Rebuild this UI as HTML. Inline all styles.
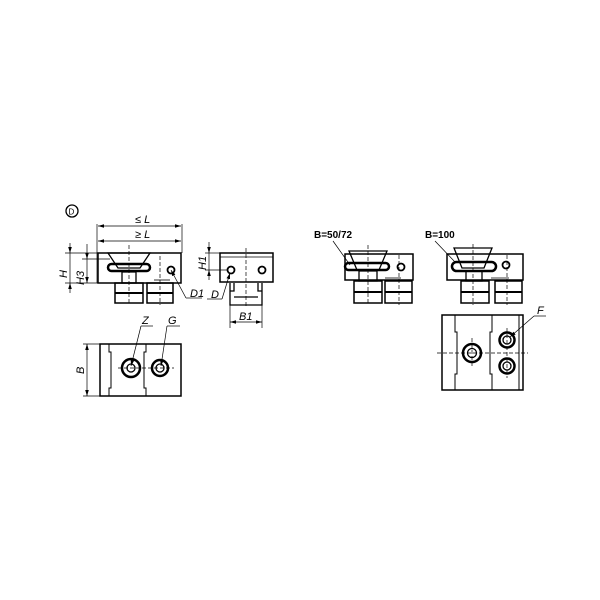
<!DOCTYPE html>
<html><head><style>
body{margin:0;background:#fff}
svg{display:block}
text{font-family:"Liberation Sans",sans-serif;font-style:italic;font-size:11px;fill:#000}
.b{font-style:normal;font-weight:bold;font-size:10px}
</style></head><body>
<svg width="600" height="600" viewBox="0 0 600 600" fill="none" stroke="#000" stroke-width="1.3">
<defs>
<marker id="a" viewBox="0 0 10 6" refX="10" refY="3" markerWidth="6" markerHeight="4" orient="auto-start-reverse" markerUnits="userSpaceOnUse"><path d="M0 0 L10 3 L0 6 Z" fill="#000" stroke="none"/></marker>
</defs>
<!-- D circle -->
<circle cx="72" cy="211" r="6"/>
<text x="68.5" y="214.5" stroke="none" style="font-style:normal;font-size:8px">D</text>
<!-- dims L -->
<line x1="97" y1="224" x2="97" y2="283" stroke-width="0.7"/>
<line x1="182" y1="224" x2="182" y2="253" stroke-width="0.7"/>
<line x1="98" y1="226" x2="181" y2="226" stroke-width="0.7" marker-start="url(#a)" marker-end="url(#a)"/>
<line x1="98" y1="241" x2="181" y2="241" stroke-width="0.7" marker-start="url(#a)" marker-end="url(#a)"/>
<text x="135" y="223" stroke="none">≤ L</text>
<text x="135" y="238" stroke="none">≥ L</text>
<!-- H dims -->
<line x1="65" y1="253" x2="98" y2="253" stroke-width="0.7"/>
<line x1="65" y1="283" x2="98" y2="283" stroke-width="0.7"/>
<line x1="82" y1="259" x2="110" y2="259" stroke-width="0.7"/>
<line x1="70" y1="243" x2="70" y2="253" stroke-width="0.7" marker-end="url(#a)"/>
<line x1="70" y1="293" x2="70" y2="283" stroke-width="0.7" marker-end="url(#a)"/>
<line x1="70" y1="253" x2="70" y2="283" stroke-width="0.7"/>
<line x1="87" y1="244" x2="87" y2="259" stroke-width="0.7" marker-end="url(#a)"/>
<line x1="87" y1="259" x2="87" y2="283" stroke-width="0.7" marker-end="url(#a)"/>
<text x="0" y="0" stroke="none" transform="translate(67,278) rotate(-90)">H</text>
<text x="0" y="0" stroke="none" transform="translate(84,285) rotate(-90)">H3</text>
<!-- front view 1 -->
<rect x="98" y="253" width="83" height="30" stroke-width="1.5"/>
<path d="M108 253 L150 253 L140 268 L118 268 Z"/>
<rect x="108" y="264" width="42" height="7" rx="3.5" stroke-width="2.5"/>
<path d="M122 272 h14 v11 h-14 z"/>
<rect x="115" y="283" width="28" height="20" stroke-width="1.5"/>
<line x1="115" y1="293" x2="143" y2="293" stroke-width="2"/>
<rect x="147" y="283" width="26" height="20" stroke-width="1.5"/>
<line x1="147" y1="293" x2="173" y2="293" stroke-width="2"/>
<line x1="129" y1="245" x2="129" y2="305" stroke-dasharray="4,2" stroke-width="0.7"/>
<line x1="160" y1="256" x2="160" y2="305" stroke-dasharray="4,2" stroke-width="0.7"/>
<path d="M154 280 h16" stroke-width="0.8"/>
<circle cx="171" cy="270" r="3.5" stroke-width="1.8"/>
<line x1="186" y1="298" x2="171" y2="270" stroke-width="0.7" marker-end="url(#a)"/>
<line x1="186" y1="298" x2="202" y2="298" stroke-width="0.7"/>
<text x="190" y="297" stroke="none">D1</text>
<!-- side view -->
<rect x="220" y="253" width="53" height="29" stroke-width="1.5"/>
<line x1="220" y1="257" x2="273" y2="257" stroke-width="0.8"/>
<path d="M230 283 v22 h32 v-22 M234 283 v8 h-4 M258 283 v8 h4 M234 297 h24" stroke-width="1.3"/>
<circle cx="231" cy="270" r="3.5" stroke-width="1.8"/>
<circle cx="262" cy="270" r="3.5" stroke-width="1.8"/>
<line x1="246" y1="248" x2="246" y2="308" stroke-dasharray="4,2" stroke-width="0.7"/>
<line x1="205" y1="253" x2="220" y2="253" stroke-width="0.7"/>
<line x1="205" y1="270" x2="228" y2="270" stroke-width="0.7"/>
<line x1="209" y1="242" x2="209" y2="253" stroke-width="0.7" marker-end="url(#a)"/>
<line x1="209" y1="280" x2="209" y2="270" stroke-width="0.7" marker-end="url(#a)"/>
<line x1="209" y1="253" x2="209" y2="270" stroke-width="0.7"/>
<text x="0" y="0" stroke="none" transform="translate(206,270) rotate(-90)">H1</text>
<line x1="222" y1="299" x2="230" y2="273" stroke-width="0.7" marker-end="url(#a)"/>
<line x1="207" y1="299" x2="222" y2="299" stroke-width="0.7"/>
<text x="211" y="298" stroke="none">D</text>
<line x1="230" y1="305" x2="230" y2="328" stroke-width="0.7"/>
<line x1="262" y1="305" x2="262" y2="328" stroke-width="0.7"/>
<line x1="230" y1="322" x2="262" y2="322" stroke-width="0.7" marker-start="url(#a)" marker-end="url(#a)"/>
<text x="239" y="320" stroke="none">B1</text>
<!-- top view 1 -->
<rect x="100" y="344" width="81" height="52" stroke-width="1.5"/>
<path d="M109 344 v8 h2 v36 h-2 v8 M146 344 v8 h-2 v36 h2 v8" stroke-width="1"/>
<circle cx="131" cy="368" r="9" stroke-width="2.5"/>
<circle cx="131" cy="368" r="4"/>
<circle cx="160" cy="368" r="8" stroke-width="2.5"/>
<circle cx="160" cy="368" r="4"/>
<line x1="118" y1="368" x2="174" y2="368" stroke-dasharray="4,2" stroke-width="0.7"/>
<line x1="83" y1="344" x2="100" y2="344" stroke-width="0.7"/>
<line x1="83" y1="396" x2="100" y2="396" stroke-width="0.7"/>
<line x1="87" y1="344" x2="87" y2="396" stroke-width="0.7" marker-start="url(#a)" marker-end="url(#a)"/>
<text x="0" y="0" stroke="none" transform="translate(84,374) rotate(-90)">B</text>
<line x1="141" y1="326" x2="131" y2="366" stroke-width="0.7" marker-end="url(#a)"/>
<line x1="141" y1="326" x2="153" y2="326" stroke-width="0.7"/>
<text x="142" y="324" stroke="none">Z</text>
<line x1="167" y1="326" x2="161" y2="366" stroke-width="0.7" marker-end="url(#a)"/>
<line x1="167" y1="326" x2="180" y2="326" stroke-width="0.7"/>
<text x="168" y="324" stroke="none">G</text>
<!-- right view A -->
<text class="b" x="314" y="238" stroke="none">B=50/72</text>
<line x1="333" y1="241" x2="350" y2="265" stroke-width="0.7"/>
<rect x="345" y="254" width="68" height="26" stroke-width="1.5"/>
<path d="M349 251 L387 251 L379 270 L357 270 Z"/>
<rect x="345" y="263" width="44" height="7" rx="3.5" stroke-width="2.5"/>
<path d="M359 271 h18 v10 h-18 z"/>
<rect x="354" y="281" width="28" height="22" stroke-width="1.5"/>
<line x1="354" y1="292" x2="382" y2="292" stroke-width="2"/>
<rect x="385" y="281" width="27" height="22" stroke-width="1.5"/>
<line x1="385" y1="292" x2="412" y2="292" stroke-width="2"/>
<line x1="368" y1="245" x2="368" y2="305" stroke-dasharray="4,2" stroke-width="0.7"/>
<line x1="399" y1="255" x2="399" y2="305" stroke-dasharray="4,2" stroke-width="0.7"/>
<circle cx="401" cy="267" r="3.5" stroke-width="1.8"/>
<path d="M385 278 h16" stroke-width="0.8"/>
<!-- right view B -->
<text class="b" x="425" y="238" stroke="none">B=100</text>
<line x1="435" y1="241" x2="455" y2="262" stroke-width="0.7"/>
<rect x="447" y="254" width="76" height="26" stroke-width="1.5"/>
<path d="M454 248 L492 248 L484 268 L462 268 Z"/>
<rect x="452" y="262" width="44" height="9" rx="4.5" stroke-width="2.5"/>
<path d="M466 271 h16 v10 h-16 z"/>
<rect x="461" y="281" width="28" height="22" stroke-width="1.5"/>
<line x1="461" y1="292" x2="489" y2="292" stroke-width="2"/>
<rect x="495" y="281" width="27" height="22" stroke-width="1.5"/>
<line x1="495" y1="292" x2="522" y2="292" stroke-width="2"/>
<line x1="473" y1="244" x2="473" y2="305" stroke-dasharray="4,2" stroke-width="0.7"/>
<line x1="507" y1="255" x2="507" y2="305" stroke-dasharray="4,2" stroke-width="0.7"/>
<circle cx="506" cy="265" r="3.5" stroke-width="1.8"/>
<path d="M491 278 h18" stroke-width="0.8"/>
<!-- top view 2 -->
<rect x="442" y="315" width="81" height="75" stroke-width="1.5"/>
<path d="M455 315 v17 h2 v42 h-2 v16 M492 315 v17 h-2 v42 h2 v16 M519 315 v75" stroke-width="1"/>
<circle cx="472" cy="353" r="9" stroke-width="2.5"/>
<circle cx="472" cy="353" r="4.5"/>
<circle cx="507" cy="340" r="7.5" stroke-width="2.5"/>
<circle cx="507" cy="340" r="4"/>
<circle cx="507" cy="366" r="7.5" stroke-width="2.5"/>
<circle cx="507" cy="366" r="4"/>
<line x1="437" y1="353" x2="528" y2="353" stroke-dasharray="4,2" stroke-width="0.7"/>
<line x1="472" y1="338" x2="472" y2="368" stroke-dasharray="4,2" stroke-width="0.7"/>
<line x1="507" y1="328" x2="507" y2="378" stroke-dasharray="4,2" stroke-width="0.7"/>
<line x1="534" y1="316" x2="510" y2="337" stroke-width="0.7" marker-end="url(#a)"/>
<line x1="534" y1="316" x2="546" y2="316" stroke-width="0.7"/>
<text x="537" y="314" stroke="none">F</text>
</svg>
</body></html>
